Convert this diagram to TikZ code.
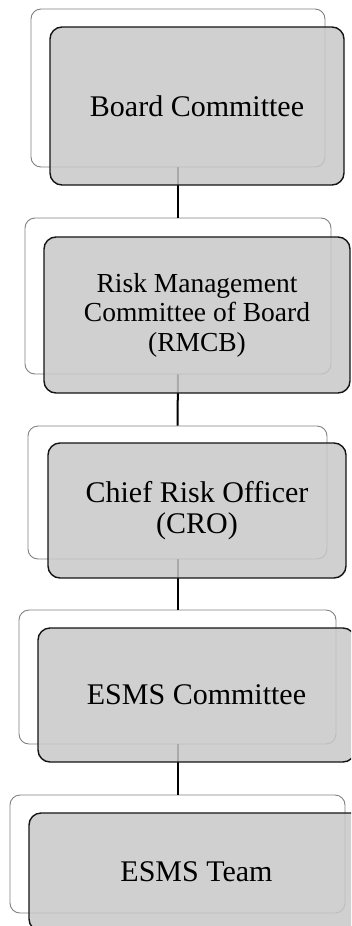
\documentclass[tikz,border=0pt]{standalone}
\usepackage{fontspec}
\setmainfont{Liberation Serif}
\begin{document}
\begin{tikzpicture}[x=1pt,y=-1pt,
  backbox/.style={draw={rgb,255:red,128;green,128;blue,128}, line width=0.9pt, rounded corners=10pt, rectangle, inner sep=0pt},
  frontbox/.style={draw={rgb,255:red,20;green,20;blue,20}, line width=1.4pt, rounded corners=12pt, rectangle, inner sep=0pt,
     fill={rgb,255:red,200;green,200;blue,200}, fill opacity=0.85, text opacity=1},
  lbl/.style={align=center, font=\fontsize{30}{31.5}\selectfont, text=black},
  lblsmall/.style={align=center, font=\fontsize{27.5}{29.5}\selectfont, text=black},
  conn/.style={draw=black, line width=2pt}]
\useasboundingbox (0,0) rectangle (351,926);
\clip (0,0) rectangle (351,926);
% back boxes
\node[backbox, minimum width=294pt, minimum height=158pt] (b1) at (178,88) {};
\node[backbox, minimum width=306pt, minimum height=156pt] (b2) at (178,296) {};
\node[backbox, minimum width=299pt, minimum height=133pt] (b3) at (177.5,492.5) {};
\node[backbox, minimum width=317pt, minimum height=134pt] (b4) at (177.5,677) {};
\node[backbox, minimum width=335pt, minimum height=118pt] (b5) at (177.5,854) {};
% connectors
\draw[conn] (b1.south) -- (b2.north);
\draw[conn] (b2.south) -- (b3.north);
\draw[conn] (b3.south) -- (b4.north);
\draw[conn] (b4.south) -- (b5.north);
% front boxes
\node[frontbox, minimum width=294pt, minimum height=158pt] (f1) at (197,106) {};
\node[frontbox, minimum width=306pt, minimum height=156pt] (f2) at (197,315) {};
\node[frontbox, minimum width=298pt, minimum height=135pt] (f3) at (197,510.5) {};
\node[frontbox, minimum width=317pt, minimum height=134pt] (f4) at (196.5,695) {};
\node[frontbox, minimum width=335pt, minimum height=118pt] (f5) at (196.5,872) {};
% labels
\node[lbl] (t1) at (f1.center) {Board Committee};
\node[lblsmall] (t2) at (f2.center) {Risk Management\\Committee of Board\\(RMCB)};
\node[lbl] (t3) at (f3.center) {Chief Risk Officer\\(CRO)};
\node[lbl] (t4) at (f4.center) {ESMS Committee};
\node[lbl] (t5) at (f5.center) {ESMS Team};
\end{tikzpicture}
\end{document}
